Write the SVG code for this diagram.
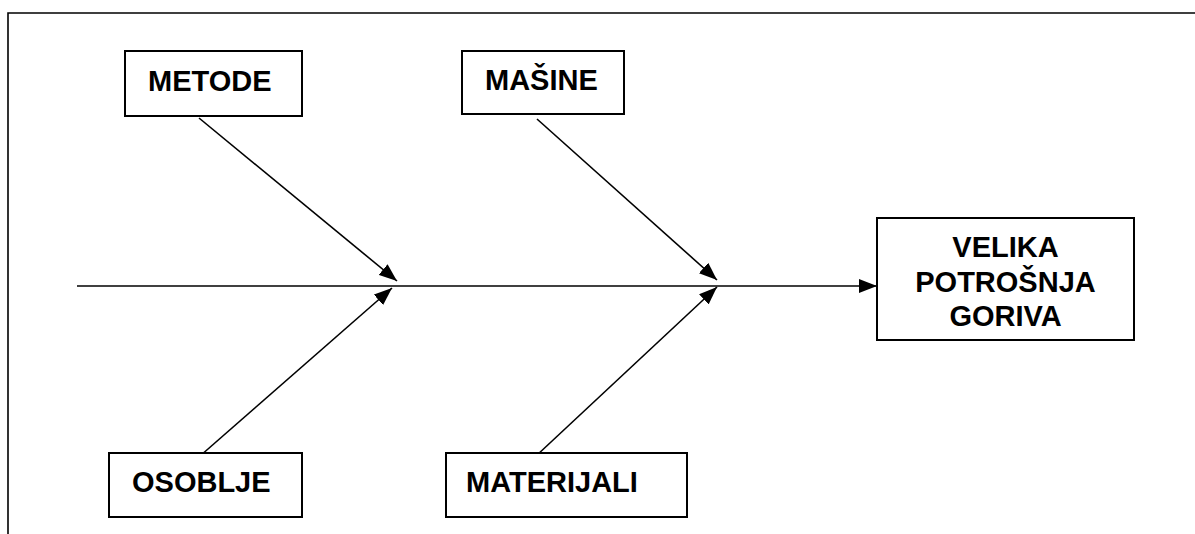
<svg xmlns="http://www.w3.org/2000/svg" width="1195" height="534" viewBox="0 0 1195 534">
<style>
.box{fill:#fff;stroke:#000;stroke-width:2}
.lbl{font-family:"Liberation Sans",Arial,sans-serif;font-weight:bold;font-size:29px;fill:#000}
.ln{stroke:#000;stroke-width:1.6;fill:none}
</style>
<defs>
<marker id="ah" viewBox="0 0 18 14" refX="18" refY="7" markerWidth="18" markerHeight="14" markerUnits="userSpaceOnUse" orient="auto">
<path d="M0,0 L18,7 L0,14 Z" fill="#000"/>
</marker>
</defs>
<rect width="1195" height="534" fill="#fff"/>
<g id="frame">
<path d="M8,534 L8,13 L1195,13" class="ln" stroke-width="2"/>
</g>
<g id="connectors">
<line x1="77" y1="286" x2="877" y2="286" class="ln" marker-end="url(#ah)"/>
<line x1="199" y1="118" x2="397" y2="281" class="ln" marker-end="url(#ah)"/>
<line x1="537" y1="119" x2="717" y2="280" class="ln" marker-end="url(#ah)"/>
<line x1="200" y1="456" x2="392" y2="288" class="ln" marker-end="url(#ah)"/>
<line x1="536" y1="456" x2="717" y2="287" class="ln" marker-end="url(#ah)"/>
</g>
<g id="metode">
<rect x="125" y="51" width="177" height="65" class="box"/>
<text x="148" y="91" class="lbl">METODE</text>
</g>
<g id="masine">
<rect x="462" y="51" width="162" height="63" class="box"/>
<text x="485" y="90" class="lbl">MAŠINE</text>
</g>
<g id="osoblje">
<rect x="109" y="453" width="193" height="64" class="box"/>
<text x="132" y="492" class="lbl">OSOBLJE</text>
</g>
<g id="materijali">
<rect x="446" y="453" width="241" height="64" class="box"/>
<text x="466" y="492" class="lbl">MATERIJALI</text>
</g>
<g id="velika">
<rect x="877" y="218" width="257" height="122" class="box"/>
<text x="1005.5" y="257" class="lbl" text-anchor="middle">VELIKA</text>
<text x="1005.5" y="292" class="lbl" text-anchor="middle">POTROŠNJA</text>
<text x="1005.5" y="326" class="lbl" text-anchor="middle">GORIVA</text>
</g>
</svg>
